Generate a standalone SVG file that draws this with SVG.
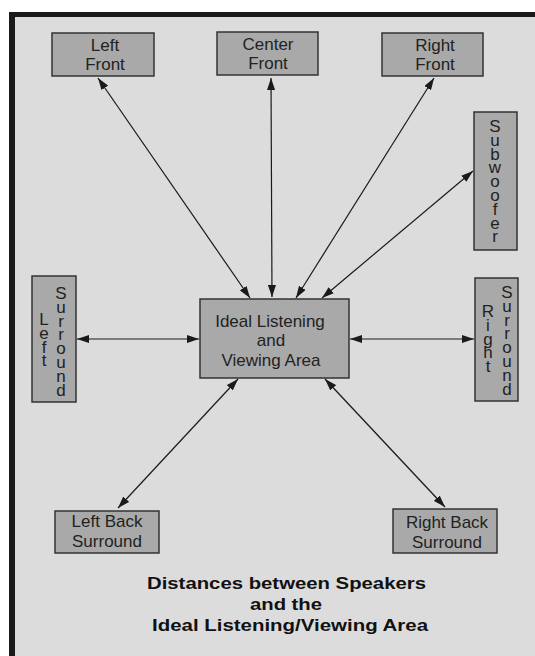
<svg xmlns="http://www.w3.org/2000/svg" width="535" height="656" viewBox="0 0 535 656">
<defs>
<marker id="ah" viewBox="0 0 12 8" refX="12" refY="4" markerWidth="12" markerHeight="8" markerUnits="userSpaceOnUse" orient="auto-start-reverse">
<path d="M0,0 L12,4 L0,8 Z" fill="#1a1a1a"/>
</marker>
</defs>
<style>
.box{fill:#a9a9a9;stroke:#333;stroke-width:1.5}
.lbl{font-family:"Liberation Sans",Arial,sans-serif;font-size:17px;fill:#222;text-anchor:middle}
.vert{font-family:"Liberation Sans",Arial,sans-serif;font-size:17px;fill:#222;writing-mode:vertical-rl;text-orientation:upright;letter-spacing:-5.2px}
.title{font-family:"Liberation Sans",Arial,sans-serif;font-size:17px;font-weight:bold;fill:#111;text-anchor:middle}
.conn line{stroke:#1a1a1a;stroke-width:1.2;marker-start:url(#ah);marker-end:url(#ah)}
</style>
<rect x="0" y="0" width="535" height="656" fill="#ffffff"/>
<rect x="9" y="12" width="600" height="700" fill="#1a1a1a"/>
<rect x="15" y="17" width="600" height="700" fill="#dcdcdc"/>

<g id="connectors" class="conn">
<line x1="98" y1="78" x2="250" y2="298"/>
<line x1="271" y1="78" x2="272" y2="297"/>
<line x1="434" y1="78" x2="296" y2="298"/>
<line x1="473" y1="171" x2="322" y2="298"/>
<line x1="77" y1="339" x2="199" y2="339"/>
<line x1="350" y1="339" x2="474" y2="339"/>
<line x1="238" y1="379" x2="118" y2="508"/>
<line x1="325" y1="379" x2="445" y2="507"/>
</g>

<g id="left-front">
<rect class="box" x="52" y="33" width="102" height="43"/>
<text class="lbl" x="105" y="51">Left</text>
<text class="lbl" x="105" y="70">Front</text>
</g>
<g id="center-front">
<rect class="box" x="217" y="32" width="101" height="43"/>
<text class="lbl" x="268" y="50">Center</text>
<text class="lbl" x="268" y="69">Front</text>
</g>
<g id="right-front">
<rect class="box" x="382" y="33" width="101" height="43"/>
<text class="lbl" x="435" y="51">Right</text>
<text class="lbl" x="435" y="70">Front</text>
</g>
<g id="subwoofer">
<rect class="box" x="474" y="112" width="43" height="138"/>
<text class="vert" x="495" y="117">Subwoofer</text>
</g>
<g id="left-surround">
<rect class="box" x="32" y="276" width="44" height="126"/>
<text class="vert" x="61" y="284">Surround</text>
<text class="vert" x="44" y="310">Left</text>
</g>
<g id="center">
<rect class="box" x="200" y="299" width="149" height="79"/>
<text class="lbl" x="270" y="327">Ideal Listening</text>
<text class="lbl" x="271" y="346">and</text>
<text class="lbl" x="271" y="366">Viewing Area</text>
</g>
<g id="right-surround">
<rect class="box" x="475" y="278" width="43" height="123"/>
<text class="vert" x="507" y="283">Surround</text>
<text class="vert" x="488" y="302">Right</text>
</g>
<g id="left-back-surround">
<rect class="box" x="55" y="511" width="104" height="42"/>
<text class="lbl" x="107" y="527">Left Back</text>
<text class="lbl" x="107" y="547">Surround</text>
</g>
<g id="right-back-surround">
<rect class="box" x="393" y="509" width="104" height="44"/>
<text class="lbl" x="447" y="528">Right Back</text>
<text class="lbl" x="447" y="548">Surround</text>
</g>

<g id="title">
<text class="title" x="286.5" y="589" textLength="279" lengthAdjust="spacingAndGlyphs">Distances between Speakers</text>
<text class="title" x="286" y="610" textLength="72" lengthAdjust="spacingAndGlyphs">and the</text>
<text class="title" x="290" y="631" textLength="276" lengthAdjust="spacingAndGlyphs">Ideal Listening/Viewing Area</text>
</g>
</svg>
